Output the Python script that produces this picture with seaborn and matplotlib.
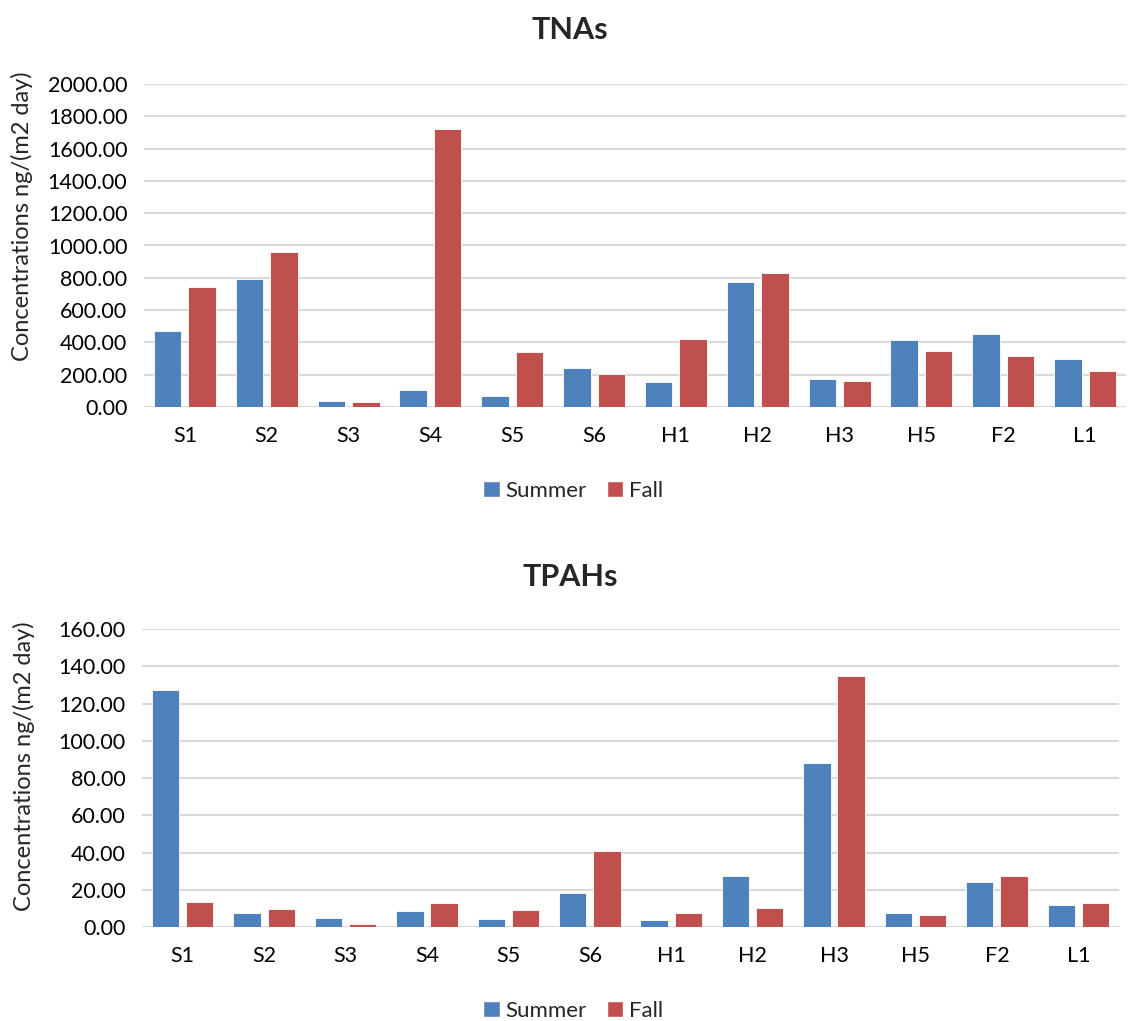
import matplotlib
matplotlib.use("Agg")
import matplotlib.pyplot as plt
import seaborn as sns
import pandas as pd
from matplotlib.patches import Patch

sites = ["S1", "S2", "S3", "S4", "S5", "S6", "H1", "H2", "H3", "H5", "F2", "L1"]
seasons = ["Summer", "Fall"]
tna_summer = [469, 793, 35, 103, 66, 242, 157, 773, 174, 417, 455, 298]
tna_fall = [744, 957, 31, 1723, 339, 202, 424, 829, 163, 349, 318, 221]
tpah_summer = [127.1, 7.3, 5.0, 8.8, 4.5, 18.3, 3.9, 27.6, 88.2, 7.7, 24.2, 11.6]
tpah_fall = [13.6, 9.8, 1.6, 13.1, 9.1, 41.0, 7.7, 10.4, 134.8, 6.3, 27.6, 13.1]
tna_ticks = [0, 200, 400, 600, 800, 1000, 1200, 1400, 1600, 1800, 2000]
tpah_ticks = [0, 20, 40, 60, 80, 100, 120, 140, 160]

colors = {"Summer": "#4F81BD", "Fall": "#C0504D"}

sns.set_style("white")
plt.rcParams["font.family"] = ["Lato", "DejaVu Sans"]

W, H = 1128, 1021
fig = plt.figure(figsize=(W / 100, H / 100), dpi=100)


def make_df(s, f):
    return pd.DataFrame({
        "site": sites * 2,
        "season": ["Summer"] * len(sites) + ["Fall"] * len(sites),
        "value": list(s) + list(f),
    })


def panel(rect, df, ticks, title, title_y, ylabel_xy, legend_y):
    l, t, r, b = rect
    ax = fig.add_axes([l / W, 1 - b / H, (r - l) / W, (b - t) / H])
    sns.barplot(data=df, x="site", y="value", hue="season", hue_order=seasons,
                palette=colors, order=sites, width=0.84, gap=0.2, saturation=1,
                edgecolor="white", linewidth=0.6, ax=ax, legend=False, zorder=3)
    ax.set_ylim(ticks[0], ticks[-1])
    ax.set_xlim(-0.5, len(sites) - 0.5)
    ax.set_yticks(ticks)
    ax.set_yticklabels([f"{v:.2f}" for v in ticks])
    ax.grid(axis="y", color="#D9D9D9", linewidth=1.5, zorder=0)
    ax.set_axisbelow(True)
    for sp in ["top", "right", "left", "bottom"]:
        ax.spines[sp].set_visible(False)
    ax.tick_params(axis="both", length=0, labelsize=15.5, colors="#000000")
    ax.tick_params(axis="y", pad=12)
    ax.tick_params(axis="x", pad=14)
    ax.set_xlabel("")
    ax.set_ylabel("")
    fig.text(570 / W, 1 - title_y / H, title, ha="center", va="center",
             fontsize=22, fontweight="bold")
    fig.text(ylabel_xy[0] / W, 1 - ylabel_xy[1] / H, "Concentrations ng/(m2 day)",
             rotation=90, ha="center", va="center", fontsize=17)
    handles = [Patch(facecolor=colors[s], label=s) for s in seasons]
    fig.legend(handles=handles, loc="center", bbox_to_anchor=(573 / W, 1 - legend_y / H),
               ncol=2, frameon=False, fontsize=16, handlelength=0.75, handleheight=0.75,
               handletextpad=0.25, columnspacing=0.9)
    return ax


panel((144, 84, 1126, 407), make_df(tna_summer, tna_fall), tna_ticks, "TNAs", 30, (22, 216), 491)
panel((142, 629, 1119, 927), make_df(tpah_summer, tpah_fall), tpah_ticks, "TPAHs", 577, (24, 766), 1011)

fig.savefig("out.png", dpi=100)
